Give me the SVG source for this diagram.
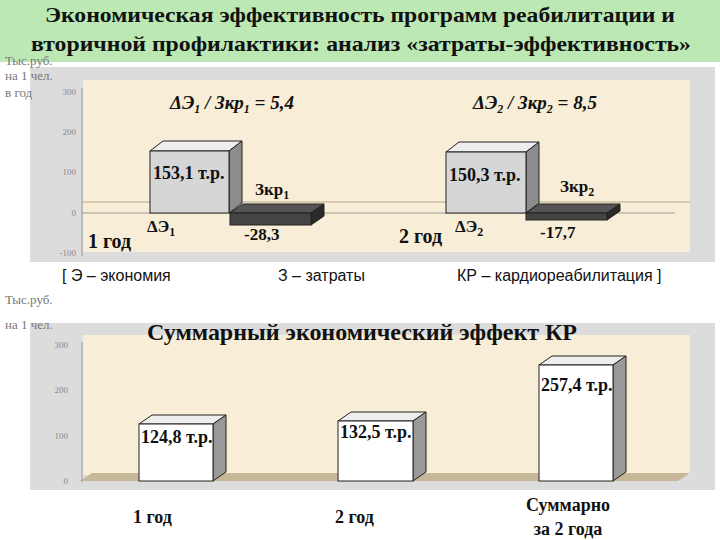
<svg xmlns="http://www.w3.org/2000/svg" width="720" height="540" viewBox="0 0 720 540">
<style>
.t{font-family:'Liberation Serif','Times New Roman','DejaVu Serif',serif;font-weight:bold;fill:#111}
.ax{font-family:'Liberation Serif','DejaVu Serif',serif;font-size:9px;fill:#888}
.yl{font-family:'Liberation Serif','DejaVu Serif',serif;font-size:13px;fill:#777}
.lg{font-family:'Liberation Sans',Arial,sans-serif;font-size:16px;fill:#111}
.bg{fill:#dcdcdc}
.pl{fill:#f8edd6}
.e{stroke:#222;stroke-width:1}
</style>
<rect width="720" height="540" fill="#fff"/>
<rect x="0" y="0" width="720" height="62" fill="#bce8b4"/>
<text class="t" x="360" y="22" font-size="22" text-anchor="middle" textLength="630" lengthAdjust="spacingAndGlyphs">Экономическая эффективность программ реабилитации и</text>
<text class="t" x="361" y="51" font-size="22" text-anchor="middle" textLength="660" lengthAdjust="spacingAndGlyphs">вторичной профилактики: анализ «затраты-эффективность»</text>
<g id="chart1">
<rect class="bg" x="30" y="67" width="685" height="195"/>
<rect class="pl" x="83" y="80" width="607" height="172"/>
<line x1="82" y1="202" x2="690" y2="202" stroke="#b8a888"/>
<line x1="82" y1="213" x2="675" y2="213" stroke="#999"/>
<line x1="82" y1="88" x2="82" y2="256" stroke="#999"/>
<text class="yl" x="5" y="65">Тыс.руб.</text><text class="yl" x="5" y="80">на 1 чел.</text><text class="yl" x="5" y="97">в год</text>
<text class="ax" x="76" y="95" text-anchor="end">300</text><text class="ax" x="76" y="135" text-anchor="end">200</text><text class="ax" x="76" y="175" text-anchor="end">100</text><text class="ax" x="76" y="216" text-anchor="end">0</text><text class="ax" x="76" y="256" text-anchor="end">-100</text>
</g>
<g id="bar1">
<polygon class="e" points="150,151 163,141 242,141 229,151" fill="#eee"/>
<polygon class="e" points="229,151 242,141 242,203 229,213" fill="#8c8c8c"/>
<rect class="e" x="150" y="151" width="79" height="62" fill="#d6d6d6"/>
<polygon class="e" points="230,213 243,204 324,204 311,213" fill="#555"/>
<polygon class="e" points="311,213 324,204 324,216 311,225" fill="#2a2a2a"/>
<rect class="e" x="230" y="213" width="81" height="12" fill="#444"/>
</g>
<g id="bar2">
<polygon class="e" points="446,152 459,142 539,142 526,152" fill="#eee"/>
<polygon class="e" points="526,152 539,142 539,203 526,213" fill="#8c8c8c"/>
<rect class="e" x="446" y="152" width="80" height="61" fill="#d6d6d6"/>
<polygon class="e" points="526,213 539,204 620,204 607,213" fill="#555"/>
<polygon class="e" points="607,213 620,204 620,211 607,220" fill="#2a2a2a"/>
<rect class="e" x="526" y="213" width="81" height="7" fill="#444"/>
</g>
<g id="labels1">
<text class="t" x="170" y="109" font-size="19" font-style="italic">ΔЭ<tspan font-size="12" dy="4">1</tspan><tspan dy="-4"> / Зкр</tspan><tspan font-size="12" dy="4">1</tspan><tspan dy="-4"> = 5,4</tspan></text>
<text class="t" x="473" y="109" font-size="19" font-style="italic">ΔЭ<tspan font-size="12" dy="4">2</tspan><tspan dy="-4"> / Зкр</tspan><tspan font-size="12" dy="4">2</tspan><tspan dy="-4"> = 8,5</tspan></text>
<text class="t" x="153" y="179" font-size="18">153,1 т.р.</text>
<text class="t" x="449" y="181" font-size="18">150,3 т.р.</text>
<text class="t" x="255" y="195" font-size="17">Зкр<tspan font-size="12" dy="4">1</tspan></text>
<text class="t" x="560" y="192" font-size="17">Зкр<tspan font-size="12" dy="4">2</tspan></text>
<text class="t" x="147" y="232" font-size="17">ΔЭ<tspan font-size="12" dy="4">1</tspan></text>
<text class="t" x="455" y="232" font-size="17">ΔЭ<tspan font-size="12" dy="4">2</tspan></text>
<text class="t" x="244" y="240" font-size="17">-28,3</text>
<text class="t" x="540" y="238" font-size="17">-17,7</text>
<text class="t" x="88" y="248" font-size="20">1 год</text>
<text class="t" x="399" y="243" font-size="20">2 год</text>
<text class="lg" x="62" y="281">[ Э – экономия</text>
<text class="lg" x="278" y="281">З – затраты</text>
<text class="lg" x="457" y="281">КР – кардиореабилитация ]</text>
</g>
<g id="chart2">
<rect class="bg" x="30" y="323" width="685" height="167"/>
<rect class="pl" x="83" y="335" width="607" height="140"/>
<polygon points="80,481 92,473 690,473 678,481" fill="#c8b89a"/>
<line x1="82" y1="342" x2="82" y2="482" stroke="#999"/>
<text class="yl" x="5" y="304">Тыс.руб.</text><text class="yl" x="5" y="329">на 1 чел.</text>
<text class="ax" x="68" y="348" text-anchor="end">300</text><text class="ax" x="68" y="393" text-anchor="end">200</text><text class="ax" x="68" y="439" text-anchor="end">100</text><text class="ax" x="68" y="484" text-anchor="end">0</text>
<text class="t" x="147" y="340" font-size="24" textLength="430" lengthAdjust="spacingAndGlyphs">Суммарный экономический эффект КР</text>
</g>
<g id="bar3">
<polygon class="e" points="139,424 152,415 226,415 213,424" fill="#eee"/>
<polygon class="e" points="213,424 226,415 226,472 213,481" fill="#999"/>
<rect class="e" x="139" y="424" width="74" height="57" fill="#fff"/>
<text class="t" x="141" y="443" font-size="18">124,8 т.р.</text>
</g>
<g id="bar4">
<polygon class="e" points="338,421 351,412 426,412 413,421" fill="#eee"/>
<polygon class="e" points="413,421 426,412 426,472 413,481" fill="#999"/>
<rect class="e" x="338" y="421" width="75" height="60" fill="#fff"/>
<text class="t" x="340" y="438" font-size="18">132,5 т.р.</text>
</g>
<g id="bar5">
<polygon class="e" points="539,365 552,356 626,356 613,365" fill="#eee"/>
<polygon class="e" points="613,365 626,356 626,472 613,481" fill="#999"/>
<rect class="e" x="539" y="365" width="74" height="116" fill="#fff"/>
<text class="t" x="541" y="391" font-size="18">257,4 т.р.</text>
</g>
<g id="labels2">
<text class="t" x="133" y="523" font-size="18">1 год</text>
<text class="t" x="335" y="523" font-size="18">2 год</text>
<text class="t" x="568" y="511" font-size="18" text-anchor="middle">Суммарно</text>
<text class="t" x="568" y="535" font-size="18" text-anchor="middle">за 2 года</text>
</g>
</svg>
